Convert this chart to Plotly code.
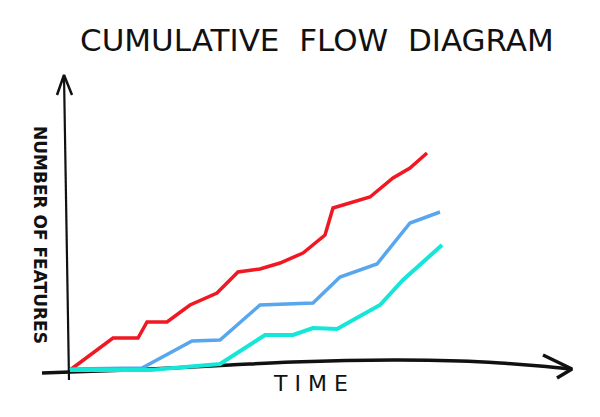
import plotly.graph_objects as go

# Cumulative counts (hand-drawn sketch)
red_t = [0, 4.3, 6.8, 7.7, 9.7, 12, 14.7, 16.8, 19, 21, 23.3, 25.5, 26.3, 30, 32.3, 34, 35.7]
red_n = [0, 3.2, 3.2, 4.8, 4.8, 6.5, 7.7, 9.8, 10.1, 10.7, 11.7, 13.5, 16.2, 17.3, 19.2, 20.2, 21.7]

blue_t = [0, 7.2, 12.2, 15, 19, 22, 24.3, 27, 30.7, 34, 37]
blue_n = [0.1, 0.2, 2.9, 3.0, 6.5, 6.6, 6.7, 9.3, 10.6, 14.7, 15.8]

cyan_t = [0, 8, 15, 19.5, 22.3, 24.3, 26.7, 31, 33.3, 37.2]
cyan_n = [0, 0, 0.6, 3.5, 3.5, 4.2, 4.1, 6.5, 9, 12.5]

# hand-drawn axes
xaxis_t = [-2.8, 0, 8, 16, 22.3, 32.3, 39, 43, 47, 50]
xaxis_n = [-0.3, -0.2, 0.1, 0.5, 0.8, 1.0, 0.9, 0.7, 0.4, 0.1]
xarrow_t = [47.3, 50.2, 48.7]
xarrow_n = [1.5, 0.1, -0.8]
yaxis_t = [-0.1, -0.35, -0.6]
yaxis_n = [-1, 14, 29.5]
yarrow_t = [-1.3, -0.6, 0.2]
yarrow_n = [27.5, 29.5, 27.5]

fig = go.Figure()
ink = "#111111"
fig.add_trace(go.Scatter(x=xaxis_t, y=xaxis_n, mode="lines", line=dict(color=ink, width=3.5, shape="spline"), hoverinfo="skip"))
fig.add_trace(go.Scatter(x=xarrow_t, y=xarrow_n, mode="lines", line=dict(color=ink, width=3.5), hoverinfo="skip"))
fig.add_trace(go.Scatter(x=yaxis_t, y=yaxis_n, mode="lines", line=dict(color=ink, width=2.2), hoverinfo="skip"))
fig.add_trace(go.Scatter(x=yarrow_t, y=yarrow_n, mode="lines", line=dict(color=ink, width=2.5), hoverinfo="skip"))

fig.add_trace(go.Scatter(x=red_t, y=red_n, mode="lines", name="Done", line=dict(color="#f01822", width=3.5)))
fig.add_trace(go.Scatter(x=blue_t, y=blue_n, mode="lines", name="In progress", line=dict(color="#58a6ee", width=3.5)))
fig.add_trace(go.Scatter(x=cyan_t, y=cyan_n, mode="lines", name="Deployed", line=dict(color="#14e6d8", width=4)))

fig.update_layout(
    width=600, height=417,
    margin=dict(l=0, r=0, t=0, b=0),
    paper_bgcolor="white", plot_bgcolor="white",
    showlegend=False,
    xaxis=dict(range=[-6.2, 53.8], visible=False, fixedrange=True),
    yaxis=dict(range=[-5.5, 36.2], visible=False, fixedrange=True),
    annotations=[
        dict(text="CUMULATIVE  FLOW  DIAGRAM", x=24.7, y=33.0, xref="x", yref="y",
             xanchor="center", yanchor="middle", showarrow=False,
             font=dict(family="DejaVu Sans", size=31, color=ink)),
        dict(text="<b>NUMBER OF FEATURES</b>", x=-3.0, y=13.5, xref="x", yref="y",
             xanchor="center", yanchor="middle", showarrow=False,
             textangle=90, font=dict(family="DejaVu Sans", size=17, color=ink)),
        dict(text="T I M E", x=24.0, y=-1.3, xref="x", yref="y",
             xanchor="center", yanchor="middle", showarrow=False,
             font=dict(family="DejaVu Sans", size=22, color=ink)),
    ],
)

fig.write_html("out.html")
